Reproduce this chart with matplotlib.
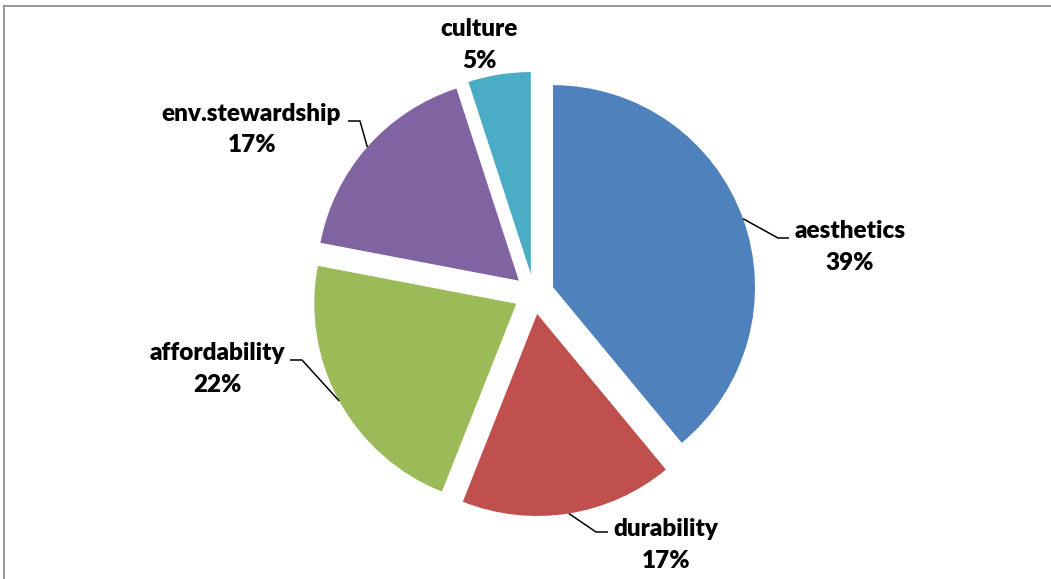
import numpy as np
import matplotlib
matplotlib.use("Agg")
import matplotlib.pyplot as plt
from matplotlib.lines import Line2D

categories = ["aesthetics", "durability", "affordability", "env.stewardship", "culture"]
values = [39, 17, 22, 17, 5]
colors = ["#4F81BD", "#C0504D", "#9BBB59", "#8064A2", "#4BACC6"]

W, H, DPI = 1051, 579, 100
fig = plt.figure(figsize=(W / DPI, H / DPI), dpi=DPI)
ax = fig.add_axes([0, 0, 1, 1])

# pixel layout
CX, CY, R = 534, 294, 202

explode = [0.1] * len(values)
wedges, _ = ax.pie(values, colors=colors, startangle=90, counterclock=False,
                   explode=explode, radius=1, wedgeprops=dict(linewidth=0))
ax.set_xlim(-CX / R, (W - CX) / R)
ax.set_ylim(-(H - CY) / R, CY / R)
ax.set_aspect("equal")
ax.axis("off")

def p2d(px, py):
    return (px - CX) / R, (CY - py) / R

# label layout in pixels: (name baseline center, pct baseline center, elbow, end)
layout = {
    "aesthetics": ((850, 238), (850, 270), (778, 238), (789, 238)),
    "durability": ((666, 536), (666, 568), (596, 532), (608, 532)),
    "affordability": ((217, 360), (217, 392), (302, 360), (290, 360)),
    "env.stewardship": ((251, 121), (252, 152), (360, 121), (348, 121)),
    "culture": ((479, 36), (479, 68), None, None),
}

font = dict(family=["Lato", "DejaVu Sans"], fontsize=17.5, fontweight="heavy", color="black")
total = sum(values)
for w, cat, v in zip(wedges, categories, values):
    name_xy, pct_xy, elbow, end = layout[cat]
    ax.text(*p2d(*name_xy), cat, ha="center", va="baseline", **font)
    ax.text(*p2d(*pct_xy), f"{round(100 * v / total)}%", ha="center", va="baseline", **font)
    if elbow is not None:
        ang = np.deg2rad((w.theta1 + w.theta2) / 2)
        cx, cy = w.center
        ax_, ay_ = cx + w.r * np.cos(ang), cy + w.r * np.sin(ang)
        ex, ey = p2d(*elbow)
        tx, ty = p2d(*end)
        ax.plot([ax_, ex, tx], [ay_, ey, ty], color="black", lw=1.1, solid_capstyle="butt")

# chart border (top and left visible)
fig.add_artist(Line2D([3.5 / W, 1], [1 - 6 / H, 1 - 6 / H], transform=fig.transFigure,
                      color="#868686", lw=1.2))
fig.add_artist(Line2D([3.5 / W, 3.5 / W], [0, 1 - 6 / H], transform=fig.transFigure,
                      color="#868686", lw=1.2))

fig.savefig("out.png", dpi=DPI)
